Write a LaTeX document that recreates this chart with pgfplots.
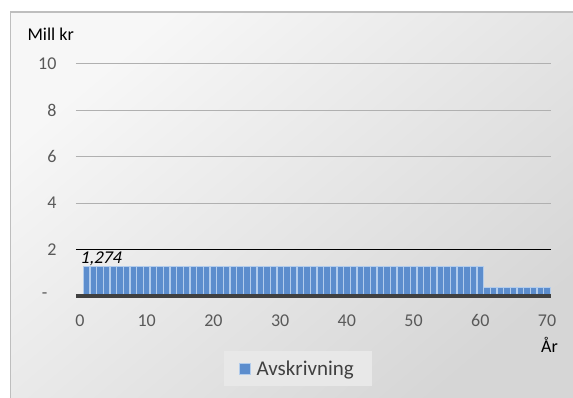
\documentclass[border=0pt]{standalone}
\usepackage{fontspec}
\setmainfont{Carlito}
\newfontfamily\labelitalic{Carlito}[FakeSlant=0.2]
\usepackage{pgfplots}
\pgfplotsset{compat=1.18}

\definecolor{barfill}{RGB}{92,141,205}
\definecolor{baredge}{RGB}{178,204,236}
\definecolor{ticktext}{RGB}{89,89,89}
\definecolor{gridgray}{RGB}{176,176,176}
\definecolor{zeroline}{RGB}{64,64,64}
\definecolor{frameline}{RGB}{190,190,190}
\definecolor{legendfill}{RGB}{232,232,232}

\begin{document}
\begin{tikzpicture}[x=1pt,y=1pt]
  \path[use as bounding box] (0,0) rectangle (573,398);
  \clip (0,0) rectangle (573,398);
  \fill[white] (0,0) rectangle (573,398);
  % chart area with a diagonal grey gradient
  \shade[top color=white!97!black, bottom color=white!84!black, shading angle=40]
    (10.5,-2) rectangle (576,386);
  \draw[frameline, line width=1.2pt] (10.5,-2) -- (10.5,386) -- (576,386);

  \begin{axis}[
    at={(76pt,102pt)}, anchor=south west,
    scale only axis, width=475pt, height=232pt,
    xmin=-0.6, xmax=70.6, ymin=0, ymax=10,
    axis line style={draw=none},
    major tick style={draw=none},
    xtick={0,10,...,70},
    ytick={0,2,4,6,8,10},
    yticklabels={{-\hphantom{0}},2,4,6,8,10},
    ymajorgrids,
    grid style={gridgray, line width=1pt},
    /pgf/number format/assume math mode=true,
    tick label style={font=\fontsize{18}{21}\selectfont, text=ticktext},
    yticklabel style={anchor=east, xshift=-16pt},
    xticklabel style={anchor=north, yshift=-15pt},
    clip=false,
    legend style={at={(rel axis cs:0.467,-0.3125)}, anchor=center,
      draw=none, fill=legendfill, inner xsep=15pt, inner ysep=7pt,
      font=\fontsize{21}{24}\selectfont, text=zeroline,
      nodes={inner xsep=3pt}},
    legend image code/.code={\draw[fill=barfill, draw=baredge, line width=0.6pt]
      (0pt,-5.5pt) rectangle (11pt,5.5pt); \path (14pt,0pt);},
  ]
    \addplot[ybar, bar width=0.95, fill=barfill, draw=baredge, line width=0.9pt]
      coordinates {
        (1,1.274) (2,1.274) (3,1.274) (4,1.274) (5,1.274)
        (6,1.274) (7,1.274) (8,1.274) (9,1.274) (10,1.274)
        (11,1.274) (12,1.274) (13,1.274) (14,1.274) (15,1.274)
        (16,1.274) (17,1.274) (18,1.274) (19,1.274) (20,1.274)
        (21,1.274) (22,1.274) (23,1.274) (24,1.274) (25,1.274)
        (26,1.274) (27,1.274) (28,1.274) (29,1.274) (30,1.274)
        (31,1.274) (32,1.274) (33,1.274) (34,1.274) (35,1.274)
        (36,1.274) (37,1.274) (38,1.274) (39,1.274) (40,1.274)
        (41,1.274) (42,1.274) (43,1.274) (44,1.274) (45,1.274)
        (46,1.274) (47,1.274) (48,1.274) (49,1.274) (50,1.274)
        (51,1.274) (52,1.274) (53,1.274) (54,1.274) (55,1.274)
        (56,1.274) (57,1.274) (58,1.274) (59,1.274) (60,1.274)
        (61,0.35) (62,0.35) (63,0.35) (64,0.35) (65,0.35)
        (66,0.35) (67,0.35) (68,0.35) (69,0.35) (70,0.35)
      };
    \addlegendentry{Avskrivning}
    % value label of the first bar
    \addplot[only marks, mark=none, forget plot,
      nodes near coords={1,274},
      nodes near coords style={anchor=base west, inner sep=0pt,
        xshift=-6.7pt, yshift=3pt,
        font=\fontsize{18}{21}\labelitalic, text=black}]
      coordinates {(1,1.274)};
    \draw[black, line width=1.3pt] (axis cs:-0.6,2) -- (axis cs:70.6,2);
    \draw[zeroline, line width=3.7pt] (axis cs:-0.6,0) -- (axis cs:70.6,0);
  \end{axis}

  \node[anchor=base west, inner sep=0pt, font=\fontsize{18}{21}\selectfont]
    at (27.3,357) {Mill kr};
  \node[anchor=base west, inner sep=0pt, font=\fontsize{18}{21}\selectfont]
    at (541,45.7) {År};
\end{tikzpicture}
\end{document}
